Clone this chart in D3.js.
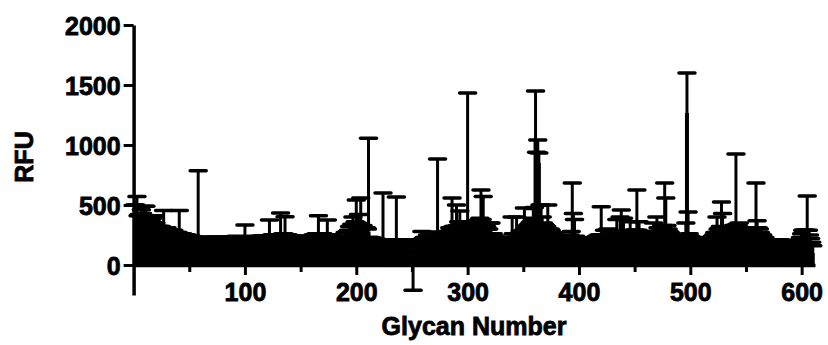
<!DOCTYPE html>
<html>
<head>
<meta charset="utf-8">
<script src="https://cdn.jsdelivr.net/npm/d3@7"></script>
<style>
  body { margin: 0; background: #fff; }
  text { font-family: "Liberation Sans", Arial, sans-serif; font-weight: bold; }
</style>
</head>
<body>
<script>
// mean RFU per glycan (1..610)
var rfu = [
  380,350,410,300,330,280,360,310,290,340,
  300,280,320,260,290,310,270,250,280,260,
  240,260,230,250,220,240,260,210,230,220,
  210,200,220,190,230,210,200,180,210,190,
  200,190,180,210,170,190,180,200,170,180,
  170,160,180,150,170,160,150,240,160,150,
  150,160,140,170,150,140,160,150,170,140,
  160,150,170,140,160,150,140,170,150,160,
  150,170,140,160,150,170,160,140,150,160,
  150,160,170,150,140,160,170,150,160,180,
  150,140,130,160,140,150,130,140,160,150,
  160,150,170,140,160,180,150,170,160,180,
  170,180,160,190,170,180,200,170,190,180,
  190,210,180,200,190,210,180,170,190,160,
  160,170,150,160,140,150,160,140,150,140,
  150,160,140,150,160,140,150,170,140,160,
  170,160,180,170,190,180,160,170,180,170,
  180,170,160,180,170,160,150,170,160,150,
  150,140,160,150,140,160,150,170,160,180,
  180,200,190,210,230,220,210,240,230,260,
  250,240,260,230,240,220,230,210,220,200,
  280,170,160,170,150,160,150,160,140,150,
  150,160,140,150,140,150,160,140,150,140,
  150,140,160,150,140,150,140,150,140,150,
  150,160,140,150,130,140,150,130,140,120,
  -20,140,130,150,140,130,150,140,160,150,
  160,150,170,160,150,170,160,180,170,160,
  160,170,190,170,180,170,160,180,170,180,
  190,200,210,220,210,230,240,220,230,250,
  240,260,230,250,240,260,230,270,250,290,
  280,260,290,270,250,280,260,270,250,280,
  290,300,280,270,260,240,230,220,210,200,
  190,180,170,160,150,160,140,150,140,150,
  140,150,130,140,150,140,150,160,150,170,
  180,170,190,180,170,190,180,200,190,210,
  220,210,230,220,240,260,280,300,380,420,
  1050,900,900,850,450,350,300,260,240,220,
  260,250,230,240,210,200,190,180,170,180,
  170,160,170,150,160,140,150,160,140,150,
  170,190,200,250,210,190,170,160,150,160,
  150,140,160,150,140,130,150,140,160,150,
  160,170,150,180,170,190,180,200,190,210,
  200,190,180,200,190,180,200,190,210,200,
  210,220,200,230,220,210,230,240,220,210,
  200,210,190,200,220,210,230,220,240,230,
  240,260,230,220,210,200,190,210,200,190,
  200,190,210,200,220,210,200,220,230,240,
  250,240,230,250,260,270,280,290,260,240,
  220,200,190,180,170,160,170,150,160,150,
  160,170,180,170,190,200,1267,220,200,190,
  180,170,160,150,160,140,150,130,140,150,
  140,150,140,160,150,170,160,180,170,190,
  200,210,220,230,240,250,260,280,260,240,
  230,220,240,230,220,240,250,260,270,280,
  330,280,260,240,250,230,240,220,210,230,
  220,210,230,220,210,240,250,260,300,290,
  250,230,210,200,190,180,170,160,150,140,
  160,150,160,150,140,150,140,150,140,130,
  140,130,140,130,120,130,120,130,120,110,
  120,110,120,110,100,110,100,120,130,140,
  160,180,170,190,200,180,160,140,120,100
];

// error (SEM) per glycan
var sem = [
  120,150,160,110,90,130,100,120,110,150,
  190,110,60,150,80,70,120,100,130,90,
  80,60,90,70,100,60,195,80,70,90,
  70,90,60,100,50,80,70,90,60,80,
  255,60,70,50,80,60,70,50,60,50,
  70,80,50,80,60,60,70,545,60,60,
  80,60,90,60,80,90,70,80,60,80,
  60,70,60,90,70,80,90,60,80,70,
  80,60,90,70,80,60,70,90,80,70,
  70,80,60,80,90,70,60,80,70,153,
  70,90,100,70,90,80,100,90,80,80,
  70,80,60,100,80,60,90,70,80,60,
  70,195,80,60,80,70,50,80,60,70,
  60,223,70,60,70,193,70,80,60,80,
  80,70,90,80,90,80,70,90,80,90,
  80,70,90,80,70,100,80,70,90,70,
  80,90,70,90,70,230,90,80,70,90,
  70,80,90,195,80,90,100,70,80,90,
  80,90,70,80,90,70,80,70,80,90,
  90,80,100,110,90,120,190,100,130,282,
  100,180,80,328,90,110,80,100,90,100,
  776,60,70,50,70,60,70,50,70,60,
  60,50,70,450,60,60,50,70,60,70,
  60,70,50,60,70,417,60,60,70,60,
  60,50,70,60,70,50,60,70,60,80,
  190,60,70,50,60,70,60,70,120,70,
  70,80,60,90,80,105,80,60,70,80,
  60,60,693,70,60,80,70,60,80,70,
  70,80,70,90,80,328,80,100,90,250,
  90,100,220,80,110,90,100,80,100,1143,
  80,100,70,90,110,80,90,100,110,90,
  100,325,100,300,90,80,90,80,90,150,
  160,80,90,80,90,70,80,70,80,60,
  70,60,80,70,60,80,70,60,80,230,
  80,90,70,220,90,70,90,80,90,80,
  255,100,90,110,100,90,80,90,90,60,
  400,40,142,83,50,150,100,90,100,110,
  60,250,70,60,80,70,60,70,80,60,
  60,70,50,70,60,70,60,50,70,60,
  70,60,80,433,220,190,70,60,70,60,
  60,70,50,60,70,80,60,70,50,60,
  60,50,70,50,60,50,60,50,60,275,
  50,60,110,50,60,120,50,60,50,60,
  50,60,70,150,60,70,170,218,60,180,
  60,50,70,60,50,150,50,60,50,60,
  50,365,60,140,60,50,60,50,60,70,
  60,70,50,60,50,60,150,60,50,160,
  60,70,80,60,50,60,403,268,70,60,
  60,70,60,50,60,70,50,60,50,60,
  60,50,60,70,60,150,333,222,60,50,
  50,60,70,60,50,70,60,80,70,60,
  70,60,70,60,70,50,60,50,60,50,
  50,60,50,170,60,50,60,245,170,60,
  60,70,50,60,70,50,60,50,60,50,
  595,60,70,110,60,70,60,70,80,60,
  60,70,50,60,70,50,60,50,383,78,
  60,70,60,50,60,50,60,50,60,60,
  50,60,50,60,60,50,60,50,60,60,
  70,70,60,70,80,70,80,60,70,80,
  80,80,70,80,80,70,80,90,100,120,
  130,110,120,100,375,110,90,80,70,60
];

var yTicks = [0, 500, 1000, 1500, 2000];
var xMajor = [100, 200, 300, 400, 500, 600];
var xMinor = [50, 150, 250, 350, 450, 550];

var data = rfu.map(function(v, i) { return {g: i + 1, m: v, e: sem[i]}; });

var svg = d3.select("body").append("svg")
    .attr("width", 828)
    .attr("height", 345);

var x = d3.scaleLinear().domain([0, 612]).range([133.6, 815]);
var y = d3.scaleLinear().domain([-250, 2000]).range([295, 25]);

// bars
svg.append("g").selectAll("rect")
    .data(data)
  .enter().append("rect")
    .attr("x", function(d) { return x(d.g) - 2; })
    .attr("width", 4)
    .attr("y", function(d) { return y(Math.max(0, d.m)); })
    .attr("height", function(d) { return Math.abs(y(d.m) - y(0)); })
    .attr("fill", "#000");

// error bars: up for positive, down for negative
function tip(d) { return d.m >= 0 ? d.m + d.e : d.m - d.e; }

svg.append("g").selectAll("line")
    .data(data)
  .enter().append("line")
    .attr("x1", function(d) { return x(d.g); })
    .attr("x2", function(d) { return x(d.g); })
    .attr("y1", function(d) { return y(d.m); })
    .attr("y2", function(d) { return y(tip(d)); })
    .attr("stroke", "#000")
    .attr("stroke-width", 3);

svg.append("g").selectAll("line")
    .data(data)
  .enter().append("line")
    .attr("x1", function(d) { return x(d.g) - 8; })
    .attr("x2", function(d) { return x(d.g) + 8; })
    .attr("y1", function(d) { return y(tip(d)); })
    .attr("y2", function(d) { return y(tip(d)); })
    .attr("stroke", "#000")
    .attr("stroke-width", 3.5)
    .attr("stroke-linecap", "round");

// axes
var yAxis = svg.append("g")
    .attr("transform", "translate(" + x(0) + ",0)")
    .call(d3.axisLeft(y).tickValues(yTicks).tickFormat(d3.format("d"))
      .tickSize(10).tickSizeOuter(0).tickPadding(3));
yAxis.selectAll("text").attr("dy", "0.38em");

var xAxis = svg.append("g")
    .attr("transform", "translate(0," + y(0) + ")")
    .call(d3.axisBottom(x).tickValues(xMajor).tickFormat(d3.format("d"))
      .tickSize(10).tickSizeOuter(0).tickPadding(8));

var xMinorAxis = svg.append("g")
    .attr("transform", "translate(0," + y(0) + ")")
    .call(d3.axisBottom(x).tickValues(xMinor).tickSize(7).tickFormat(""));
xMinorAxis.select(".domain").remove();

svg.selectAll(".domain").attr("stroke", "#000").attr("stroke-width", 3.5);
svg.selectAll(".tick line").attr("stroke", "#000").attr("stroke-width", 3);
svg.selectAll(".tick text")
    .attr("fill", "#000")
    .style("font-size", "25px")
    .style("font-family", "'Liberation Sans', Arial, sans-serif")
    .style("font-weight", "bold");

// axis titles
svg.append("text")
    .attr("x", 474)
    .attr("y", 335)
    .attr("text-anchor", "middle")
    .style("font-size", "25px")
    .text("Glycan Number");

svg.append("text")
    .attr("transform", "translate(33,157) rotate(-90)")
    .attr("text-anchor", "middle")
    .style("font-size", "25px")
    .text("RFU");

// heavier glyphs, closer to the original bold face
svg.selectAll("text")
    .attr("stroke", "#000")
    .attr("stroke-width", 0.8);
</script>
</body>
</html>
